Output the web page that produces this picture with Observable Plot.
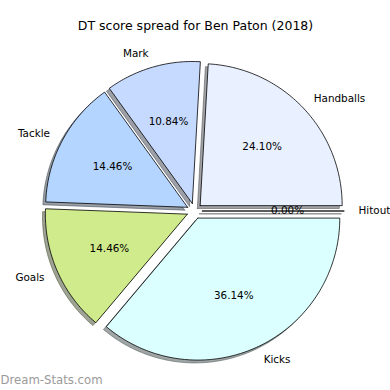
<!DOCTYPE html>
<html>
<head>
<meta charset="utf-8">
<script src="https://cdn.jsdelivr.net/npm/d3@7"></script>
<script src="https://cdn.jsdelivr.net/npm/@observablehq/plot@0.6"></script>
<style>
  html, body { margin: 0; padding: 0; background: white; }
</style>
</head>
<body>
<div id="chart"></div>
<script>
// ---- data ----
const titleText = "DT score spread for Ben Paton (2018)";
const watermark = "Dream-Stats.com";
const categories = ["Hitout", "Handballs", "Mark", "Tackle", "Goals", "Kicks"];
const values = [0, 20, 9, 12, 12, 30];
const colors = ["#ffffff", "#e9f0ff", "#c6d9ff", "#b4d5ff", "#d0eb8b", "#dbffff"];

// ---- geometry (unit radius pie, matplotlib-like) ----
const explode = 0.055;
const labelDistance = 1.1;
const pctDistance = 0.6;
const total = d3.sum(values);

let acc = 0;
const slices = values.map((v, i) => {
  const a0 = acc / total * 2 * Math.PI;
  acc += v;
  const a1 = acc / total * 2 * Math.PI;
  const mid = (a0 + a1) / 2;
  const cx = explode * Math.cos(mid), cy = explode * Math.sin(mid);
  return {i, name: categories[i], value: v, a0, a1, mid, cx, cy, color: colors[i],
          pct: (v / total * 100).toFixed(2) + "%"};
});

function wedgePoints(s, ox = 0, oy = 0) {
  const pts = [{x: s.cx + ox, y: s.cy + oy}];
  const n = Math.max(1, Math.ceil((s.a1 - s.a0) / (Math.PI / 180)));
  for (let k = 0; k <= n; k++) {
    const a = s.a0 + (s.a1 - s.a0) * k / n;
    pts.push({x: s.cx + ox + Math.cos(a), y: s.cy + oy + Math.sin(a)});
  }
  pts.push({x: s.cx + ox, y: s.cy + oy});
  return pts;
}

// pixel mapping: center at (194, 210.5), radius 142 px
const W = 390, H = 390, R = 142, CX = 194, CY = 210.5;
const xDomain = [-CX / R, (W - CX) / R];
const yDomain = [-(H - CY) / R, CY / R];

const shadowMarks = slices.map(s => {
  const c = d3.rgb(s.color);
  const sc = d3.rgb(c.r * 0.3, c.g * 0.3, c.b * 0.3).formatHex();
  return Plot.line(wedgePoints(s, -0.02, -0.02), {
    x: "x", y: "y", fill: sc, fillOpacity: 0.5, stroke: sc, strokeOpacity: 0.5,
    strokeWidth: 1, curve: "linear"
  });
});

const wedgeMarks = slices.map(s => Plot.line(wedgePoints(s), {
  x: "x", y: "y", fill: s.color, stroke: "black", strokeWidth: 0.8, curve: "linear",
  strokeLinejoin: "miter"
}));

const labelPts = slices.map(s => ({
  name: s.name,
  x: s.cx + labelDistance * Math.cos(s.mid),
  y: s.cy + labelDistance * Math.sin(s.mid),
  right: Math.cos(s.mid) >= 0
}));
const pctPts = slices.map(s => ({
  pct: s.pct,
  x: s.cx + pctDistance * Math.cos(s.mid),
  y: s.cy + pctDistance * Math.sin(s.mid)
}));

const chart = Plot.plot({
  width: W, height: H, margin: 0,
  x: {domain: xDomain, axis: null},
  y: {domain: yDomain, axis: null},
  style: {fontFamily: "DejaVu Sans", background: "white", color: "black"},
  marks: [
    ...shadowMarks,
    ...wedgeMarks,
    Plot.text(labelPts.filter(d => d.right), {x: "x", y: "y", text: "name", textAnchor: "start", fontSize: 10.4, fill: "black"}),
    Plot.text(labelPts.filter(d => !d.right), {x: "x", y: "y", text: "name", textAnchor: "end", fontSize: 10.4, fill: "black"}),
    Plot.text(pctPts, {x: "x", y: "y", text: "pct", textAnchor: "middle", fontSize: 10.4, fill: "black"}),
    Plot.text([titleText], {frameAnchor: "top", lineAnchor: "middle", dy: 25.5, fontSize: 12.5, fill: "black"}),
    Plot.text([watermark], {frameAnchor: "bottom-left", textAnchor: "start", lineAnchor: "middle", dy: -10, dx: 0, fontSize: 11.7, fill: "#9a9a9a"})
  ]
});
document.getElementById("chart").appendChild(chart);
</script>
</body>
</html>
